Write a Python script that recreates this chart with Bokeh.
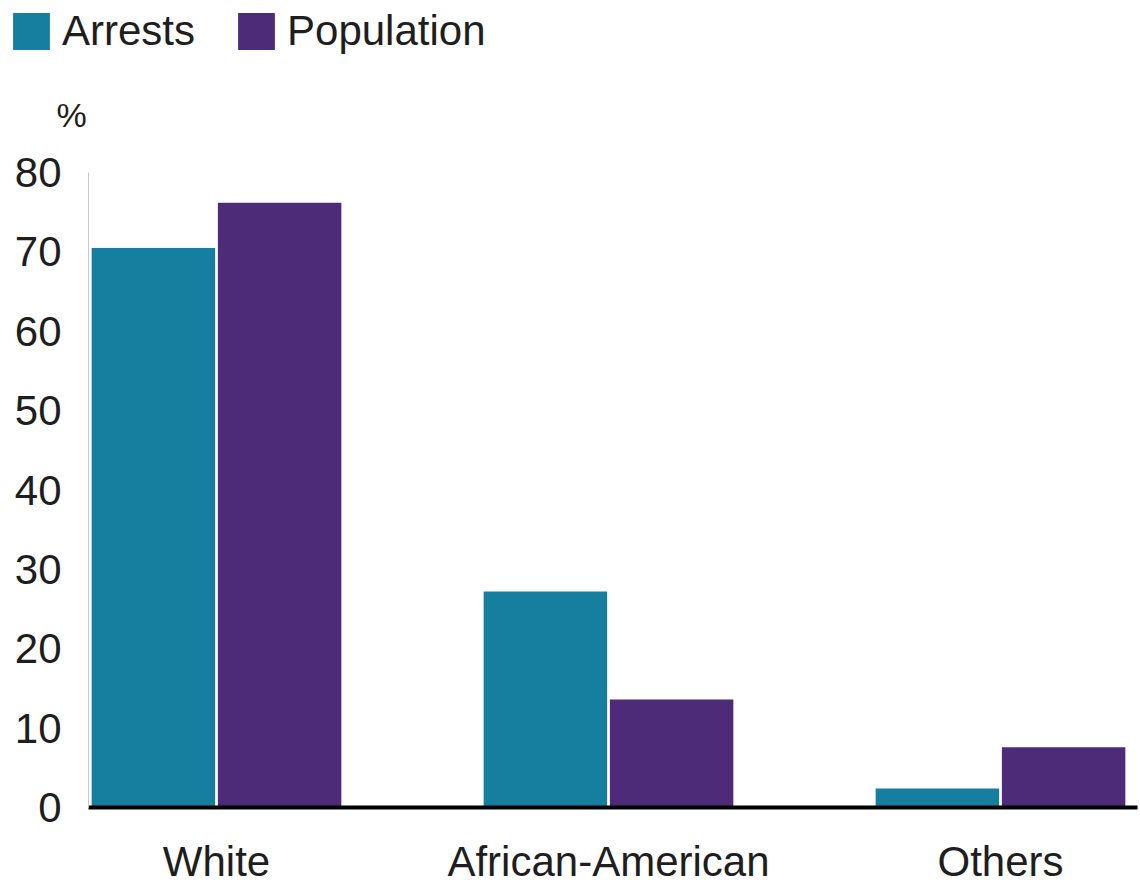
from bokeh.plotting import figure
from bokeh.models import (ColumnDataSource, Range1d, FixedTicker, Legend,
                          LegendItem, Label)
from bokeh.transform import dodge
from bokeh.embed import file_html
from bokeh.resources import INLINE

# Share of arrests vs share of population by race (%)
categories = ["White", "African-American", "Others"]
arrests = [70.5, 27.2, 2.4]
population = [76.2, 13.6, 7.6]
y_ticks = [0, 10, 20, 30, 40, 50, 60, 70, 80]

FONT = "Liberation Sans"
TEXT = "#1e1e1e"
TEAL = "#167e9e"
PURPLE = "#4e2b78"
FS = "42px"

src = ColumnDataSource(dict(
    pos=list(range(len(categories))),
    arrests=arrests,
    population=population,
))

# the plotting frame fills the whole canvas; axes sit at fixed data positions
W, H = 1140, 886
px_x = 392.0            # pixels per category step
px_y = 635.0 / 80.0     # pixels per percentage point
cx0, base_y = 216, 807  # first group centre and baseline, in canvas pixels
x_start = -cx0 / px_x
x_end = (W - cx0) / px_x
y_start = -(H - base_y) / px_y
y_end = base_y / px_y
y_axis_at = (88 - cx0) / px_x
x_axis_end = (1137 - cx0) / px_x

p = figure(width=W, height=H, output_backend="svg", toolbar_location=None,
           x_range=Range1d(x_start, x_end), y_range=Range1d(y_start, y_end),
           min_border=0)
p.outline_line_color = None
p.background_fill_color = "white"
p.border_fill_color = "white"
p.xgrid.visible = False
p.ygrid.visible = False

r_arr = p.vbar(x=dodge("pos", -0.161, range=p.x_range), top="arrests", width=0.315,
               source=src, fill_color=TEAL, line_color=None)
r_pop = p.vbar(x=dodge("pos", 0.161, range=p.x_range), top="population", width=0.315,
               source=src, fill_color=PURPLE, line_color=None)

# x axis: thick black baseline with category names
xa = p.xaxis[0]
xa.fixed_location = 0
xa.bounds = (y_axis_at, x_axis_end)
xa.ticker = FixedTicker(ticks=list(range(len(categories))))
xa.major_label_overrides = {i: c for i, c in enumerate(categories)}
xa.axis_line_color = "black"
xa.axis_line_width = 4
xa.major_tick_line_color = None
xa.minor_tick_line_color = None
xa.major_tick_out = 0
xa.major_tick_in = 0
xa.major_label_standoff = 30
xa.major_label_text_font = FONT
xa.major_label_text_font_size = FS
xa.major_label_text_color = TEXT

# y axis: thin grey spine from 0 to 80, no ticks
ya = p.yaxis[0]
ya.fixed_location = y_axis_at
ya.bounds = (0, 80)
ya.ticker = FixedTicker(ticks=y_ticks)
ya.axis_line_color = "#c8c8c8"
ya.axis_line_width = 1
ya.major_tick_line_color = None
ya.minor_tick_line_color = None
ya.major_tick_out = 0
ya.major_tick_in = 0
ya.major_label_standoff = 27
ya.major_label_text_font = FONT
ya.major_label_text_font_size = FS
ya.major_label_text_color = TEXT

# unit label above the y axis
p.add_layout(Label(x=y_axis_at, y=80, x_offset=-17, y_offset=58, text="%",
                   text_align="center", text_baseline="middle",
                   text_font=FONT, text_font_size="34px", text_color=TEXT))

legend = Legend(items=[LegendItem(label="Arrests", renderers=[r_arr]),
                       LegendItem(label="Population", renderers=[r_pop])],
                orientation="horizontal", location=(8, H - 9 - 46),
                glyph_width=46, glyph_height=46, label_standoff=8, spacing=38,
                padding=0, margin=0, border_line_color=None,
                background_fill_alpha=0,
                label_text_font=FONT, label_text_font_size=FS,
                label_text_color=TEXT, label_height=46)
p.add_layout(legend, "center")

open("out.html", "w").write(file_html(p, INLINE))
